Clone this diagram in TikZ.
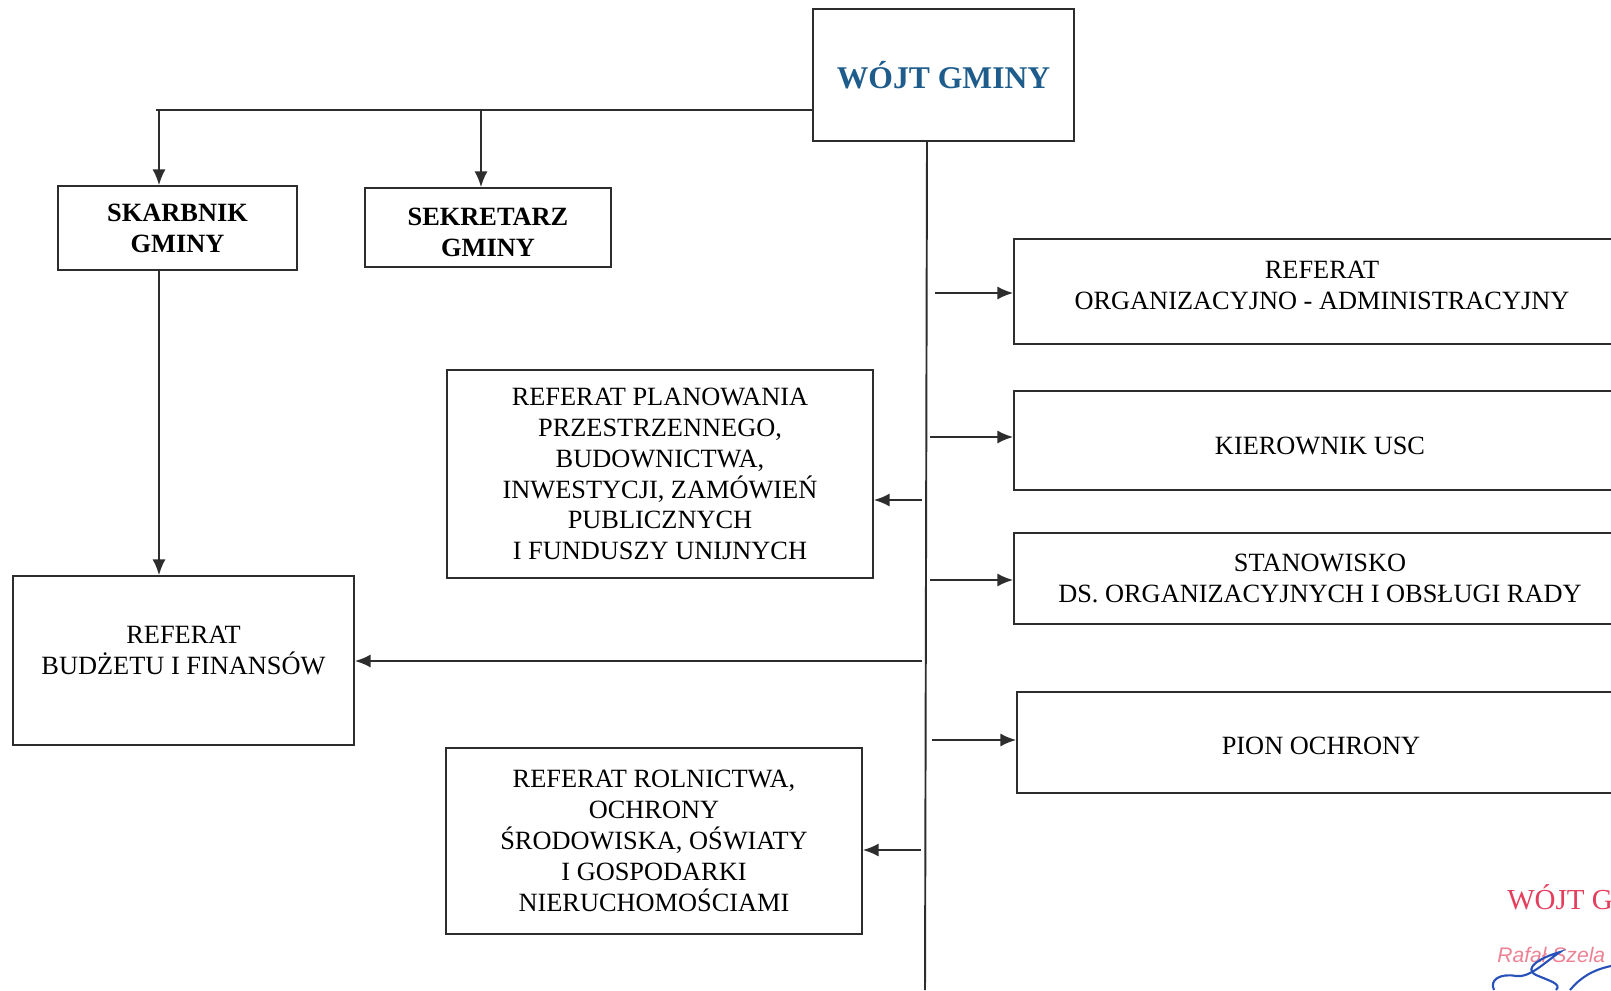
\documentclass[tikz,border=0pt]{standalone}
\usepackage{fontspec}
\setmainfont{Liberation Serif}
\setsansfont{Liberation Sans}
\usepackage{tikz}
\usetikzlibrary{arrows.meta,positioning}
\definecolor{wojtblue}{RGB}{30,92,140}
\definecolor{linegray}{RGB}{45,45,45}
\definecolor{stampred}{RGB}{228,62,92}
\definecolor{signblue}{RGB}{40,80,185}

\begin{document}
\begin{tikzpicture}[x=0.02cm,y=-0.02cm,
  size/.style 2 args={minimum width=#1*0.02cm,minimum height=#2*0.02cm},
  box/.style={draw=linegray,line width=1pt,align=center,inner sep=0pt,
    font=\fontsize{15}{17.6}\selectfont},
  boldbox/.style={box,font=\fontsize{15}{17.6}\selectfont\bfseries},
  ln/.style={draw=linegray,line width=1.1pt},
  arr/.style={ln,-{Latex[length=9pt,width=7.5pt]}}]
\clip (0,0) rectangle (1611,990);

\node[box,size={261}{132},font=\fontsize{18}{20}\selectfont\bfseries,text=wojtblue] (wojt) at (943.5,75) {WÓJT GMINY};
\node[boldbox,size={239}{84}] (skarbnik) at (177.5,228) {SKARBNIK\\GMINY};
\node[boldbox,size={246}{79},text height=33pt] (sekretarz) at (488,227.5) {SEKRETARZ\\GMINY};

\node[box,size={616}{105},text depth=7pt] (orgadm) at (1322,291.5) {REFERAT\\ORGANIZACYJNO - ADMINISTRACYJNY};
\node[box,size={612}{99},text height=15.5pt,text depth=0pt] (usc) at (1320,440.5) {KIEROWNIK USC};
\node[box,size={612}{91}] (stanowisko) at (1320,578.5) {STANOWISKO\\DS. ORGANIZACYJNYCH I OBSŁUGI RADY};
\node[box,size={608}{101},text height=13.3pt,text depth=0pt] (pion) at (1321,742.5) {PION OCHRONY};

\node[box,size={426}{208}] (planowania) at (660,474) {REFERAT PLANOWANIA\\PRZESTRZENNEGO,\\BUDOWNICTWA,\\INWESTYCJI, ZAMÓWIEŃ\\PUBLICZNYCH\\I FUNDUSZY UNIJNYCH};
\node[box,size={341}{169},text depth=11.5pt] (budzetu) at (183.5,660.5) {REFERAT\\BUDŻETU I FINANSÓW};
\node[box,size={416}{186}] (rolnictwa) at (654,841) {REFERAT ROLNICTWA,\\OCHRONY\\ŚRODOWISKA, OŚWIATY\\I GOSPODARKI\\NIERUCHOMOŚCIAMI};

\coordinate (top) at (927,141);
\coordinate (bottom) at (925,990);
\coordinate (left) at (156,110);
\coordinate (c1) at (159,110);
\coordinate (c2) at (481,110);
\draw[ln] (top) -- (bottom);
\draw[ln] ([yshift=-0.7cm]wojt.west) -- (left);
\draw[arr] (c1) -- (c1 |- skarbnik.north);
\draw[arr] (c2) -- (c2 |- sekretarz.north);
\draw[arr] (skarbnik.south -| c1) -- (budzetu.north -| c1);

\coordinate (b1) at (935,293);
\coordinate (b2) at (930,437);
\coordinate (b3) at (930,580);
\coordinate (b4) at (932,740);
\coordinate (b5) at (922,500);
\coordinate (b6) at (922,661);
\coordinate (b7) at (921,850);
\draw[arr] (b1) -- (b1 -| orgadm.west);
\draw[arr] (b2) -- (b2 -| usc.west);
\draw[arr] (b3) -- (b3 -| stanowisko.west);
\draw[arr] (b4) -- (b4 -| pion.west);
\draw[arr] (b5) -- (b5 -| planowania.east);
\draw[arr] (b6) -- (b6 -| budzetu.east);
\draw[arr] (b7) -- (b7 -| rolnictwa.east);

\node[anchor=base west,inner sep=0pt,text=stampred,font=\fontsize{16.5}{17}\selectfont] (stamp) at (1507,909) {WÓJT G};
\node[anchor=base west,inner sep=0pt,text=stampred!65,font=\fontsize{12}{12}\selectfont\sffamily\itshape] (name) at (1497,962) {Rafał Szela};
\draw[signblue,line width=1.2pt] (1494,990) .. controls (1489,980) and (1500,973) .. (1516,976)
  .. controls (1530,978) and (1545,962) .. (1560,952)
  .. controls (1542,957) and (1522,968) .. (1536,975)
  .. controls (1550,981) and (1562,984) .. (1556,990);
\draw[signblue,line width=1.2pt] (1570,990) .. controls (1580,978) and (1592,970) .. (1611,966);
\end{tikzpicture}
\end{document}
